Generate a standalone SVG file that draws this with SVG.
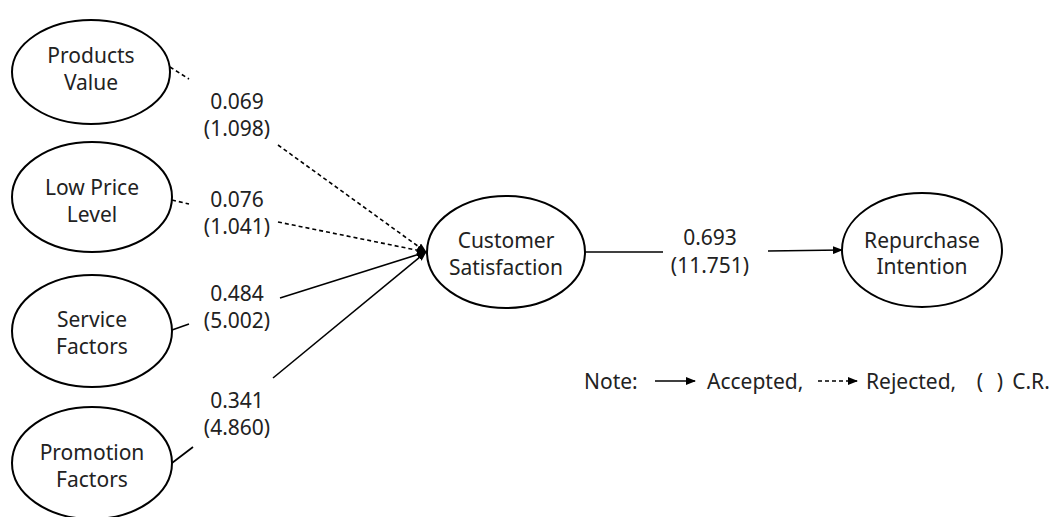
<svg xmlns="http://www.w3.org/2000/svg" width="1056" height="517" viewBox="0 0 1056 517">
<style>
.n{fill:#fff;stroke:#000;stroke-width:2}
text{font-family:"Noto Sans","Liberation Sans",sans-serif;font-size:21px;fill:#222;text-anchor:middle}
.c{fill:none;stroke:#000;stroke-width:1.6}
.d{stroke-dasharray:4 3}
.s{text-anchor:start}
</style>
<defs>
<marker id="ah" markerWidth="10" markerHeight="8" refX="9" refY="4" orient="auto" markerUnits="userSpaceOnUse">
<path d="M0,0 L10,4 L0,8 Z" fill="#000"/>
</marker>
</defs>
<rect width="1056" height="517" fill="#fff"/>
<g id="connectors">
<line class="c d" x1="170" y1="67" x2="189" y2="79"/>
<line class="c d" x1="278" y1="145" x2="426" y2="252" marker-end="url(#ah)"/>
<line class="c d" x1="172" y1="200" x2="189" y2="204"/>
<line class="c d" x1="278" y1="222" x2="426" y2="252" marker-end="url(#ah)"/>
<line class="c" x1="172" y1="330" x2="189" y2="324"/>
<line class="c" x1="280" y1="298" x2="426" y2="252" marker-end="url(#ah)"/>
<line class="c" x1="172" y1="463" x2="193" y2="447"/>
<line class="c" x1="273" y1="378" x2="426" y2="252" marker-end="url(#ah)"/>
<line class="c" x1="585" y1="252" x2="663" y2="252"/>
<line class="c" x1="768" y1="251" x2="842" y2="250" marker-end="url(#ah)"/>
<text x="237" y="109">0.069</text>
<text x="237" y="136">(1.098)</text>
<text x="237" y="207">0.076</text>
<text x="237" y="234">(1.041)</text>
<text x="237" y="301">0.484</text>
<text x="237" y="328">(5.002)</text>
<text x="237" y="408">0.341</text>
<text x="237" y="435">(4.860)</text>
<text x="710" y="245">0.693</text>
<text x="710" y="273">(11.751)</text>
</g>
<g id="products-value">
<ellipse class="n" cx="91" cy="72" rx="79" ry="52"/>
<text x="91" y="63">Products</text>
<text x="91" y="90">Value</text>
</g>
<g id="low-price-level">
<ellipse class="n" cx="92" cy="197" rx="80" ry="55"/>
<text x="92" y="195">Low Price</text>
<text x="92" y="222">Level</text>
</g>
<g id="service-factors">
<ellipse class="n" cx="92" cy="331" rx="80" ry="56"/>
<text x="92" y="327">Service</text>
<text x="92" y="354">Factors</text>
</g>
<g id="promotion-factors">
<ellipse class="n" cx="92" cy="463" rx="80" ry="56"/>
<text x="92" y="460">Promotion</text>
<text x="92" y="487">Factors</text>
</g>
<g id="customer-satisfaction">
<ellipse class="n" cx="506" cy="252" rx="79" ry="56"/>
<text x="506" y="248">Customer</text>
<text x="506" y="275">Satisfaction</text>
</g>
<g id="repurchase-intention">
<ellipse class="n" cx="922" cy="250" rx="80" ry="57"/>
<text x="922" y="248">Repurchase</text>
<text x="922" y="274">Intention</text>
</g>
<g id="legend">
<text x="584" y="389" class="s">Note:</text>
<line class="c" x1="655" y1="381" x2="695" y2="381" marker-end="url(#ah)"/>
<text x="707" y="389" class="s">Accepted,</text>
<line class="c d" x1="818" y1="381" x2="857" y2="381" marker-end="url(#ah)"/>
<text x="866" y="389" class="s">Rejected,</text>
<text x="980" y="389">(</text>
<text x="1000" y="389">)</text>
<text x="1031" y="389">C.R.</text>
</g>
</svg>
